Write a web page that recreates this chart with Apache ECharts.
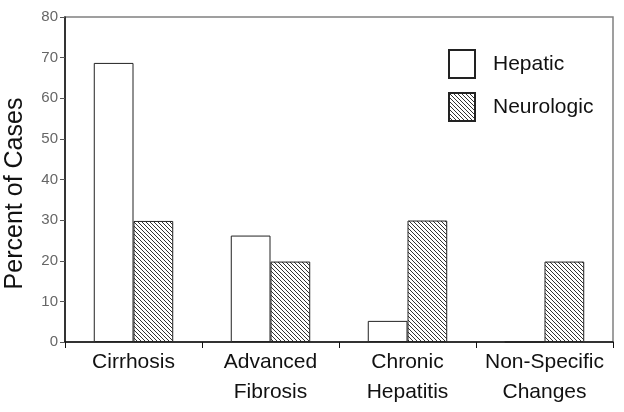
<!DOCTYPE html>
<html>
<head>
<meta charset="utf-8">
<script src="https://cdn.jsdelivr.net/npm/echarts@6/dist/echarts.min.js"></script>
<style>
  html, body { margin: 0; padding: 0; background: #fff; }
  #chart { width: 624px; height: 412px; }
</style>
</head>
<body>
<div id="chart"></div>
<script>
var categories = ['Cirrhosis', 'Advanced\nFibrosis', 'Chronic\nHepatitis', 'Non-Specific\nChanges']
var hepatic = [68.7, 26.2, 5.2, 0]
var neurologic = [29.8, 19.8, 29.9, 19.8]
var yTicks = [0, 10, 20, 30, 40, 50, 60, 70, 80]

var FONT = '"Liberation Sans", Arial, sans-serif'

// diagonal hatch like the original plot
function makeHatch () {
  var c = document.createElement('canvas')
  c.width = 4
  c.height = 4
  var ctx = c.getContext('2d')
  ctx.fillStyle = '#fff'
  ctx.fillRect(0, 0, 4, 4)
  ctx.strokeStyle = '#333'
  ctx.lineWidth = 1
  ctx.beginPath()
  ctx.moveTo(-1, -1); ctx.lineTo(5, 5)
  ctx.moveTo(-1, 3); ctx.lineTo(1, 5)
  ctx.moveTo(3, -1); ctx.lineTo(5, 1)
  ctx.stroke()
  return c
}
var hatch = { image: makeHatch(), repeat: 'repeat' }

var chart = echarts.init(document.getElementById('chart'))
chart.setOption({
  backgroundColor: '#fff',
  animation: false,
  grid: {
    left: 65, top: 17, right: 11, bottom: 70,
    outerBoundsMode: 'none',
    containLabel: false,
    show: true, borderColor: '#808080', borderWidth: 1.5
  },
  legend: {
    orient: 'vertical',
    left: 448,
    top: 49,
    padding: 0,
    icon: 'rect',
    itemWidth: 26,
    itemHeight: 28,
    itemGap: 13,
    textStyle: { fontFamily: FONT, fontSize: 21, color: '#111', padding: [0, 0, 0, 13] },
    data: ['Hepatic', 'Neurologic']
  },
  xAxis: {
    type: 'category',
    data: categories,
    axisLine: { lineStyle: { color: '#111', width: 1.5 } },
    axisTick: { show: true, length: 6, lineStyle: { color: '#111' } },
    axisLabel: { interval: 0, fontFamily: FONT, fontSize: 21, color: '#111', lineHeight: 30, margin: 5 }
  },
  yAxis: {
    type: 'value',
    min: 0,
    max: 80,
    interval: 10,
    name: 'Percent of Cases',
    nameLocation: 'middle',
    nameGap: 37,
    nameTextStyle: { fontFamily: FONT, fontSize: 25, color: '#111', padding: [0, 28, 0, 0] },
    splitLine: { show: false },
    axisLine: { show: true, lineStyle: { color: '#111', width: 1.5 } },
    axisTick: { show: true, length: 5, lineStyle: { color: '#555' } },
    axisLabel: {
      fontFamily: FONT, fontSize: 15, color: '#666', margin: 7,
      formatter: function (v) { return yTicks.indexOf(v) >= 0 ? String(v) : '' }
    }
  },
  series: [
    {
      name: 'Hepatic',
      type: 'bar',
      data: hepatic,
      barGap: '0%',
      barCategoryGap: '42%',
      itemStyle: { color: '#fff', borderColor: '#222', borderWidth: 1 }
    },
    {
      name: 'Neurologic',
      type: 'bar',
      data: neurologic,
      itemStyle: { color: hatch, borderColor: '#222', borderWidth: 1 }
    }
  ]
})
</script>
</body>
</html>
